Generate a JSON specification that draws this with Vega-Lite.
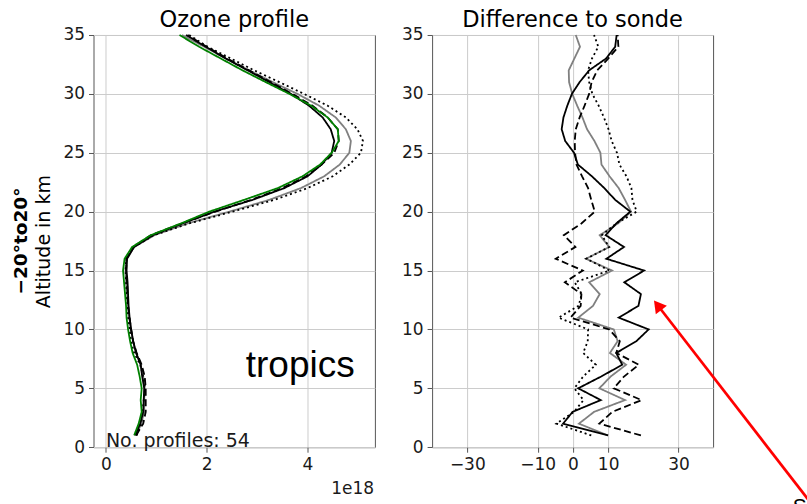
{
"$schema": "https://vega.github.io/schema/vega-lite/v6.json",
"padding": {"left": 11.5, "top": 8, "right": 0, "bottom": 0},
"bounds": "flush",
"spacing": 56.6,
"config": {
  "font": "DejaVu Sans",
  "view": {"stroke": "#555555", "strokeWidth": 1},
  "axis": {"domain": false, "grid": true, "gridColor": "#cccccc", "gridWidth": 1, "tickColor": "#555555", "tickSize": 5, "labelFontSize": 17, "labelColor": "#1a1a1a", "labelFont": "DejaVu Sans", "labelPadding": 4, "titleFont": "DejaVu Sans", "format": "d", "labelOverlap": false},
  "title": {"font": "DejaVu Sans", "fontSize": 22.5, "fontWeight": "normal", "color": "#000000", "frame": "group", "baseline": "alphabetic", "offset": -5.8}
},
"datasets": {
"one": [{}],
"prof": [
{"s":"gray","km":1,"v":0.60},{"s":"gray","km":2,"v":0.70},{"s":"gray","km":3,"v":0.76},{"s":"gray","km":4,"v":0.76},{"s":"gray","km":5,"v":0.77},{"s":"gray","km":6,"v":0.74},{"s":"gray","km":7,"v":0.69},{"s":"gray","km":8,"v":0.60},{"s":"gray","km":9,"v":0.54},{"s":"gray","km":10,"v":0.50},{"s":"gray","km":11,"v":0.46},{"s":"gray","km":12,"v":0.44},{"s":"gray","km":13,"v":0.42},{"s":"gray","km":14,"v":0.40},{"s":"gray","km":15,"v":0.39},{"s":"gray","km":16,"v":0.40},{"s":"gray","km":17,"v":0.56},{"s":"gray","km":18,"v":0.96},{"s":"gray","km":19,"v":1.62},{"s":"gray","km":20,"v":2.45},{"s":"gray","km":21,"v":3.24},{"s":"gray","km":22,"v":3.87},{"s":"gray","km":23,"v":4.33},{"s":"gray","km":24,"v":4.64},{"s":"gray","km":25,"v":4.83},{"s":"gray","km":26,"v":4.86},{"s":"gray","km":27,"v":4.76},{"s":"gray","km":28,"v":4.56},{"s":"gray","km":29,"v":4.23},{"s":"gray","km":30,"v":3.80},{"s":"gray","km":31,"v":3.31},{"s":"gray","km":32,"v":2.84},{"s":"gray","km":33,"v":2.38},{"s":"gray","km":34,"v":1.95},{"s":"gray","km":35,"v":1.51},
{"s":"dotted","km":1,"v":0.61},{"s":"dotted","km":2,"v":0.70},{"s":"dotted","km":3,"v":0.73},{"s":"dotted","km":4,"v":0.75},{"s":"dotted","km":5,"v":0.78},{"s":"dotted","km":6,"v":0.74},{"s":"dotted","km":7,"v":0.68},{"s":"dotted","km":8,"v":0.56},{"s":"dotted","km":9,"v":0.50},{"s":"dotted","km":10,"v":0.47},{"s":"dotted","km":11,"v":0.44},{"s":"dotted","km":12,"v":0.43},{"s":"dotted","km":13,"v":0.41},{"s":"dotted","km":14,"v":0.40},{"s":"dotted","km":15,"v":0.39},{"s":"dotted","km":16,"v":0.40},{"s":"dotted","km":17,"v":0.55},{"s":"dotted","km":18,"v":0.95},{"s":"dotted","km":19,"v":1.65},{"s":"dotted","km":20,"v":2.51},{"s":"dotted","km":21,"v":3.34},{"s":"dotted","km":22,"v":4.00},{"s":"dotted","km":23,"v":4.50},{"s":"dotted","km":24,"v":4.83},{"s":"dotted","km":25,"v":5.06},{"s":"dotted","km":26,"v":5.10},{"s":"dotted","km":27,"v":4.99},{"s":"dotted","km":28,"v":4.76},{"s":"dotted","km":29,"v":4.40},{"s":"dotted","km":30,"v":3.93},{"s":"dotted","km":31,"v":3.44},{"s":"dotted","km":32,"v":2.94},{"s":"dotted","km":33,"v":2.48},{"s":"dotted","km":34,"v":2.02},{"s":"dotted","km":35,"v":1.65},
{"s":"dashed","km":1,"v":0.60},{"s":"dashed","km":2,"v":0.74},{"s":"dashed","km":3,"v":0.79},{"s":"dashed","km":4,"v":0.79},{"s":"dashed","km":5,"v":0.79},{"s":"dashed","km":6,"v":0.77},{"s":"dashed","km":7,"v":0.71},{"s":"dashed","km":8,"v":0.61},{"s":"dashed","km":9,"v":0.54},{"s":"dashed","km":10,"v":0.50},{"s":"dashed","km":11,"v":0.47},{"s":"dashed","km":12,"v":0.44},{"s":"dashed","km":13,"v":0.43},{"s":"dashed","km":14,"v":0.42},{"s":"dashed","km":15,"v":0.40},{"s":"dashed","km":16,"v":0.41},{"s":"dashed","km":17,"v":0.54},{"s":"dashed","km":18,"v":0.89},{"s":"dashed","km":19,"v":1.51},{"s":"dashed","km":20,"v":2.17},{"s":"dashed","km":21,"v":2.88},{"s":"dashed","km":22,"v":3.50},{"s":"dashed","km":23,"v":3.97},{"s":"dashed","km":24,"v":4.28},{"s":"dashed","km":25,"v":4.53},{"s":"dashed","km":26,"v":4.62},{"s":"dashed","km":27,"v":4.60},{"s":"dashed","km":28,"v":4.40},{"s":"dashed","km":29,"v":4.10},{"s":"dashed","km":30,"v":3.70},{"s":"dashed","km":31,"v":3.27},{"s":"dashed","km":32,"v":2.84},{"s":"dashed","km":33,"v":2.41},{"s":"dashed","km":34,"v":2.00},{"s":"dashed","km":35,"v":1.62},
{"s":"black","km":1,"v":0.58},{"s":"black","km":2,"v":0.68},{"s":"black","km":3,"v":0.74},{"s":"black","km":4,"v":0.75},{"s":"black","km":5,"v":0.76},{"s":"black","km":6,"v":0.72},{"s":"black","km":7,"v":0.69},{"s":"black","km":8,"v":0.60},{"s":"black","km":9,"v":0.54},{"s":"black","km":10,"v":0.50},{"s":"black","km":11,"v":0.47},{"s":"black","km":12,"v":0.45},{"s":"black","km":13,"v":0.44},{"s":"black","km":14,"v":0.43},{"s":"black","km":15,"v":0.41},{"s":"black","km":16,"v":0.42},{"s":"black","km":17,"v":0.56},{"s":"black","km":18,"v":0.93},{"s":"black","km":19,"v":1.52},{"s":"black","km":20,"v":2.15},{"s":"black","km":21,"v":2.91},{"s":"black","km":22,"v":3.54},{"s":"black","km":23,"v":4.00},{"s":"black","km":24,"v":4.28},{"s":"black","km":25,"v":4.48},{"s":"black","km":26,"v":4.53},{"s":"black","km":27,"v":4.46},{"s":"black","km":28,"v":4.30},{"s":"black","km":29,"v":4.03},{"s":"black","km":30,"v":3.67},{"s":"black","km":31,"v":3.24},{"s":"black","km":32,"v":2.81},{"s":"black","km":33,"v":2.38},{"s":"black","km":34,"v":1.98},{"s":"black","km":35,"v":1.59},
{"s":"green","km":1,"v":0.56},{"s":"green","km":2,"v":0.65},{"s":"green","km":3,"v":0.71},{"s":"green","km":4,"v":0.69},{"s":"green","km":5,"v":0.71},{"s":"green","km":6,"v":0.67},{"s":"green","km":7,"v":0.62},{"s":"green","km":8,"v":0.53},{"s":"green","km":9,"v":0.48},{"s":"green","km":10,"v":0.44},{"s":"green","km":11,"v":0.41},{"s":"green","km":12,"v":0.40},{"s":"green","km":13,"v":0.38},{"s":"green","km":14,"v":0.36},{"s":"green","km":15,"v":0.34},{"s":"green","km":16,"v":0.37},{"s":"green","km":17,"v":0.52},{"s":"green","km":18,"v":0.89},{"s":"green","km":19,"v":1.49},{"s":"green","km":20,"v":2.05},{"s":"green","km":21,"v":2.74},{"s":"green","km":22,"v":3.41},{"s":"green","km":23,"v":3.90},{"s":"green","km":24,"v":4.25},{"s":"green","km":25,"v":4.48},{"s":"green","km":26,"v":4.62},{"s":"green","km":27,"v":4.60},{"s":"green","km":28,"v":4.40},{"s":"green","km":29,"v":4.07},{"s":"green","km":30,"v":3.64},{"s":"green","km":31,"v":3.17},{"s":"green","km":32,"v":2.71},{"s":"green","km":33,"v":2.28},{"s":"green","km":34,"v":1.85},{"s":"green","km":35,"v":1.46}
],
"diff": [
{"s":"gray","km":1,"v":9.9},{"s":"gray","km":2,"v":1.7},{"s":"gray","km":3,"v":6},{"s":"gray","km":4,"v":14.8},{"s":"gray","km":5,"v":7.5},{"s":"gray","km":6,"v":10.7},{"s":"gray","km":7,"v":15.1},{"s":"gray","km":8,"v":10.5},{"s":"gray","km":9,"v":12.7},{"s":"gray","km":10,"v":11.6},{"s":"gray","km":11,"v":1.5},{"s":"gray","km":12,"v":5.7},{"s":"gray","km":13,"v":7.6},{"s":"gray","km":14,"v":4.6},{"s":"gray","km":15,"v":11.1},{"s":"gray","km":16,"v":3.7},{"s":"gray","km":17,"v":10.3},{"s":"gray","km":18,"v":7.6},{"s":"gray","km":19,"v":12.8},{"s":"gray","km":20,"v":16.5},{"s":"gray","km":21,"v":14.8},{"s":"gray","km":22,"v":13},{"s":"gray","km":23,"v":10.4},{"s":"gray","km":24,"v":8.1},{"s":"gray","km":25,"v":7.8},{"s":"gray","km":26,"v":6.1},{"s":"gray","km":27,"v":4},{"s":"gray","km":28,"v":2.7},{"s":"gray","km":29,"v":1.2},{"s":"gray","km":30,"v":-0.2},{"s":"gray","km":31,"v":-1.1},{"s":"gray","km":32,"v":-1.2},{"s":"gray","km":33,"v":0.4},{"s":"gray","km":34,"v":2},{"s":"gray","km":35,"v":0.8},
{"s":"dotted","km":1,"v":5.2},{"s":"dotted","km":2,"v":-4.7},{"s":"dotted","km":3,"v":0.3},{"s":"dotted","km":4,"v":3},{"s":"dotted","km":5,"v":0.4},{"s":"dotted","km":6,"v":2.9},{"s":"dotted","km":7,"v":6.5},{"s":"dotted","km":8,"v":2.9},{"s":"dotted","km":9,"v":4.2},{"s":"dotted","km":10,"v":4.3},{"s":"dotted","km":11,"v":-4.1},{"s":"dotted","km":12,"v":1.6},{"s":"dotted","km":13,"v":2.5},{"s":"dotted","km":14,"v":0.5},{"s":"dotted","km":15,"v":10.4},{"s":"dotted","km":16,"v":3.8},{"s":"dotted","km":17,"v":10.3},{"s":"dotted","km":18,"v":8.2},{"s":"dotted","km":19,"v":12.3},{"s":"dotted","km":20,"v":18.1},{"s":"dotted","km":21,"v":16.9},{"s":"dotted","km":22,"v":16.6},{"s":"dotted","km":23,"v":15.2},{"s":"dotted","km":24,"v":13.2},{"s":"dotted","km":25,"v":12.5},{"s":"dotted","km":26,"v":11},{"s":"dotted","km":27,"v":10.1},{"s":"dotted","km":28,"v":8.8},{"s":"dotted","km":29,"v":7.3},{"s":"dotted","km":30,"v":5.5},{"s":"dotted","km":31,"v":4.6},{"s":"dotted","km":32,"v":4.3},{"s":"dotted","km":33,"v":5.4},{"s":"dotted","km":34,"v":7.2},{"s":"dotted","km":35,"v":6},
{"s":"dashed","km":1,"v":19.3},{"s":"dashed","km":2,"v":7.5},{"s":"dashed","km":3,"v":11.2},{"s":"dashed","km":4,"v":19.5},{"s":"dashed","km":5,"v":11.6},{"s":"dashed","km":6,"v":14.5},{"s":"dashed","km":7,"v":18.7},{"s":"dashed","km":8,"v":12.3},{"s":"dashed","km":9,"v":13.3},{"s":"dashed","km":10,"v":10.3},{"s":"dashed","km":11,"v":-0.7},{"s":"dashed","km":12,"v":2.2},{"s":"dashed","km":13,"v":2.4},{"s":"dashed","km":14,"v":-2.3},{"s":"dashed","km":15,"v":2.8},{"s":"dashed","km":16,"v":-4.9},{"s":"dashed","km":17,"v":0.7},{"s":"dashed","km":18,"v":-2.6},{"s":"dashed","km":19,"v":2.4},{"s":"dashed","km":20,"v":6.2},{"s":"dashed","km":21,"v":5.2},{"s":"dashed","km":22,"v":4.3},{"s":"dashed","km":23,"v":2.6},{"s":"dashed","km":24,"v":1},{"s":"dashed","km":25,"v":0.6},{"s":"dashed","km":26,"v":0.5},{"s":"dashed","km":27,"v":0.8},{"s":"dashed","km":28,"v":1.9},{"s":"dashed","km":29,"v":3.3},{"s":"dashed","km":30,"v":4.6},{"s":"dashed","km":31,"v":5.3},{"s":"dashed","km":32,"v":6.9},{"s":"dashed","km":33,"v":10},{"s":"dashed","km":34,"v":12.9},{"s":"dashed","km":35,"v":12.7},
{"s":"black","km":1,"v":10},{"s":"black","km":2,"v":-2.8},{"s":"black","km":3,"v":-0.1},{"s":"black","km":4,"v":7.9},{"s":"black","km":5,"v":1.5},{"s":"black","km":6,"v":8},{"s":"black","km":7,"v":14},{"s":"black","km":8,"v":12.3},{"s":"black","km":9,"v":18},{"s":"black","km":10,"v":21.5},{"s":"black","km":11,"v":13},{"s":"black","km":12,"v":18.6},{"s":"black","km":13,"v":19.3},{"s":"black","km":14,"v":14.6},{"s":"black","km":15,"v":20.2},{"s":"black","km":16,"v":9.5},{"s":"black","km":17,"v":14.5},{"s":"black","km":18,"v":9.3},{"s":"black","km":19,"v":12.3},{"s":"black","km":20,"v":16.3},{"s":"black","km":21,"v":12},{"s":"black","km":22,"v":8.9},{"s":"black","km":23,"v":5.4},{"s":"black","km":24,"v":1.4},{"s":"black","km":25,"v":0.3},{"s":"black","km":26,"v":-2.2},{"s":"black","km":27,"v":-3.2},{"s":"black","km":28,"v":-2.7},{"s":"black","km":29,"v":-1.6},{"s":"black","km":30,"v":-0.3},{"s":"black","km":31,"v":1.9},{"s":"black","km":32,"v":4.6},{"s":"black","km":33,"v":9.4},{"s":"black","km":34,"v":12},{"s":"black","km":35,"v":12.4}
]
},
"hconcat": [
{
  "width": 281.4,
  "height": 412.2,
  "title": {"text": "Ozone profile"},
  "layer": [
    {
      "data": {"name": "prof"},
      "mark": {"type": "line", "strokeWidth": 1.8},
      "encoding": {
        "x": {"field": "v", "type": "quantitative", "scale": {"domain": [-0.246, 5.337], "nice": false, "zero": false}, "axis": {"values": [0, 2, 4], "title": null}},
        "y": {"field": "km", "type": "quantitative", "scale": {"domain": [0, 35], "nice": false}, "axis": {"values": [0, 5, 10, 15, 20, 25, 30, 35], "title": "Altitude in km", "titleFontSize": 19, "titleFontWeight": "normal", "titleColor": "#000000", "titleX": -43.6, "titleBaseline": "alphabetic"}},
        "color": {"field": "s", "type": "nominal", "scale": {"domain": ["gray", "dotted", "dashed", "black", "green"], "range": ["#808080", "#000000", "#000000", "#000000", "#008000"]}, "legend": null},
        "strokeDash": {"field": "s", "type": "nominal", "scale": {"domain": ["gray", "dotted", "dashed", "black", "green"], "range": [[1, 0], [2, 3], [7, 3.5], [1, 0], [1, 0]]}, "legend": null},
        "order": {"field": "km", "type": "quantitative"}
      }
    },
    {
      "data": {"name": "one"},
      "mark": {"type": "text", "text": "−20°to20°", "font": "DejaVu Sans", "fontSize": 18.5, "fontWeight": "bold", "angle": 270, "align": "center", "baseline": "alphabetic", "color": "#000000"},
      "encoding": {"x": {"datum": -1.556}, "y": {"datum": 17.5}}
    },
    {
      "data": {"name": "one"},
      "mark": {"type": "text", "text": "tropics", "font": "Liberation Sans", "fontSize": 37, "align": "center", "baseline": "alphabetic", "color": "#000000"},
      "encoding": {"x": {"datum": 3.855}, "y": {"datum": 5.94}}
    },
    {
      "data": {"name": "one"},
      "mark": {"type": "text", "text": "No. profiles: 54", "font": "DejaVu Sans", "fontSize": 19, "align": "left", "baseline": "alphabetic", "color": "#1a1a1a"},
      "encoding": {"x": {"datum": 0}, "y": {"datum": 0.05}}
    },
    {
      "data": {"name": "one"},
      "mark": {"type": "text", "text": "1e18", "font": "DejaVu Sans", "fontSize": 17, "align": "right", "baseline": "alphabetic", "color": "#1a1a1a"},
      "encoding": {"x": {"datum": 5.32}, "y": {"datum": -3.96}}
    }
  ]
},
{
  "width": 281,
  "height": 412.2,
  "title": {"text": "Difference to sonde"},
  "layer": [
    {
      "data": {"name": "diff"},
      "mark": {"type": "line", "strokeWidth": 1.8},
      "encoding": {
        "x": {"field": "v", "type": "quantitative", "scale": {"domain": [-40, 39.8], "nice": false, "zero": false}, "axis": {"values": [-30, -10, 0, 10, 30], "title": null}},
        "y": {"field": "km", "type": "quantitative", "scale": {"domain": [0, 35], "nice": false}, "axis": {"values": [0, 5, 10, 15, 20, 25, 30, 35], "title": null}},
        "color": {"field": "s", "type": "nominal", "scale": {"domain": ["gray", "dotted", "dashed", "black", "green"], "range": ["#808080", "#000000", "#000000", "#000000", "#008000"]}, "legend": null},
        "strokeDash": {"field": "s", "type": "nominal", "scale": {"domain": ["gray", "dotted", "dashed", "black", "green"], "range": [[1, 0], [2, 3], [7, 3.5], [1, 0], [1, 0]]}, "legend": null},
        "order": {"field": "km", "type": "quantitative"}
      }
    },
    {
      "data": {"name": "one"},
      "mark": {"type": "rule", "color": "#ff0000", "strokeWidth": 2.7},
      "encoding": {"x": {"datum": 24.06}, "y": {"datum": 12.05}, "x2": {"datum": 69.2}, "y2": {"datum": -5.37}}
    },
    {
      "data": {"name": "one"},
      "mark": {"type": "point", "shape": "triangle-up", "filled": true, "color": "#ff0000", "opacity": 1, "size": 196, "angle": 322.5},
      "encoding": {"x": {"datum": 24.06}, "y": {"datum": 12.05}}
    },
    {
      "data": {"name": "one"},
      "mark": {"type": "text", "text": "S", "font": "Liberation Sans", "fontSize": 21, "align": "left", "baseline": "alphabetic", "color": "#000000"},
      "encoding": {"x": {"datum": 62.4}, "y": {"datum": -5.63}}
    }
  ]
}
]
}
